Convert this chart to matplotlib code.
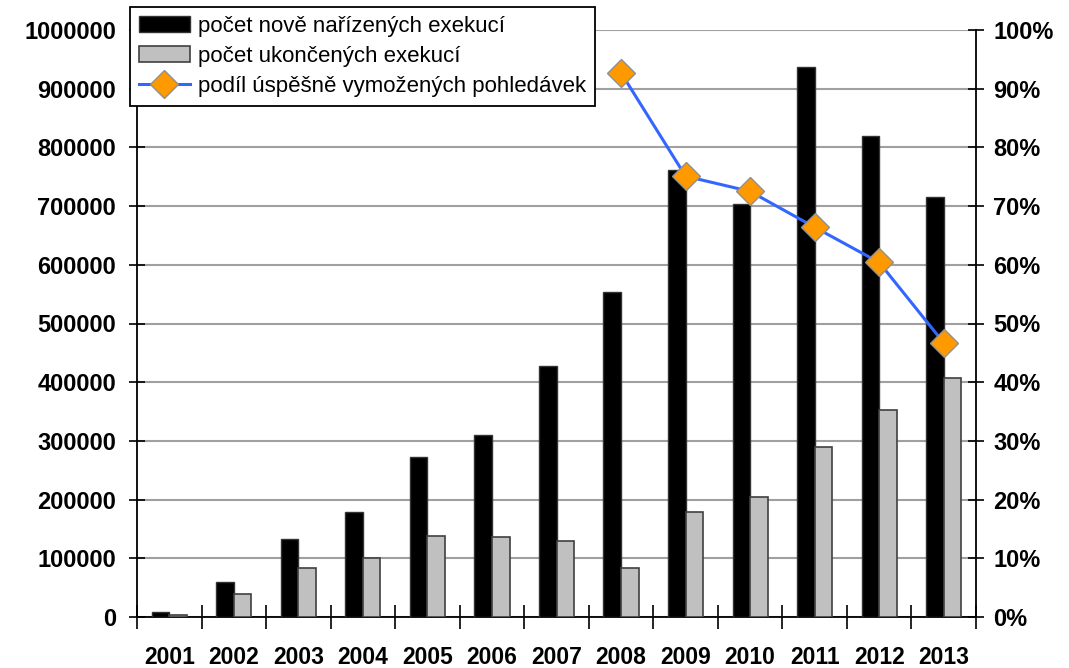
import matplotlib
matplotlib.use("Agg")
import matplotlib.pyplot as plt
import numpy as np

years = ["2001", "2002", "2003", "2004", "2005", "2006", "2007",
         "2008", "2009", "2010", "2011", "2012", "2013"]
nove = [8000, 60000, 133000, 179000, 272000, 310000, 428000,
        554000, 762000, 703000, 937000, 819000, 716000]
ukoncene = [4000, 39000, 83000, 100000, 138000, 135500, 130000,
            83500, 179000, 204000, 290000, 353000, 408000]
podil_years = ["2008", "2009", "2010", "2011", "2012", "2013"]
podil = [0.927, 0.751, 0.725, 0.664, 0.604, 0.467]

labels = ["počet nově nařízených exekucí", "počet ukončených exekucí",
          "podíl úspěšně vymožených pohledávek"]

plt.rcParams['font.family'] = ['Liberation Sans', 'DejaVu Sans']

W, H = 1069, 668
fig = plt.figure(figsize=(W / 100, H / 100), dpi=100)
L, R, T, B = 137, 976, 30, 617
ax = fig.add_axes([L / W, (H - B) / H, (R - L) / W, (B - T) / H])
ax2 = ax.twinx()

x = np.arange(len(years))
bw = 0.272
ax.bar(x - bw, nove, width=bw, align='edge', color='black',
       edgecolor='#333333', linewidth=1, label=labels[0], zorder=3)
ax.bar(x, ukoncene, width=bw, align='edge', color='#C0C0C0',
       edgecolor='#404040', linewidth=1.2, label=labels[1], zorder=3)

px = [years.index(y) for y in podil_years]
ax2.plot(px, podil, color='#3366FF', linewidth=2.2, marker='D',
         markersize=14, markerfacecolor='#FF9900', markeredgecolor='#909090',
         markeredgewidth=1, label=labels[2], zorder=4)

ax.set_xlim(-0.5, len(years) - 0.5)
ax.set_ylim(0, 1000000)
ax2.set_ylim(0, 1.0)

ax.set_yticks(np.arange(0, 1000001, 100000))
ax.set_yticklabels([f"{v}" for v in range(0, 1000001, 100000)])
ax2.set_yticks(np.arange(0, 1.01, 0.1))
ax2.set_yticklabels([f"{int(round(v * 100))}%" for v in np.arange(0, 1.01, 0.1)])

ax.yaxis.grid(True, color='#A0A0A0', linewidth=1.5, zorder=0)
ax.set_axisbelow(True)

ax.set_xticks(x)
ax.set_xticklabels(years)
ax.set_xticks(np.arange(-0.5, len(years), 1.0), minor=True)
ax.tick_params(axis='x', which='major', length=0, pad=21,
               labelsize=16.5)
ax.tick_params(axis='x', which='minor', direction='inout', length=17,
               width=1.2, color='black')
for lab in ax.get_xticklabels():
    lab.set_fontweight('bold')

ax.tick_params(axis='y', which='major', direction='inout', length=12,
               width=1.2, labelsize=17, pad=9)
for lab in ax.get_yticklabels():
    lab.set_fontweight('bold')
ax2.tick_params(axis='y', which='major', direction='inout', length=12,
                width=1.2, labelsize=17, pad=6.5)
for lab in ax2.get_yticklabels():
    lab.set_fontweight('bold')

for a in (ax, ax2):
    a.spines['top'].set_visible(False)
    a.spines['left'].set_linewidth(1.3)
    a.spines['right'].set_linewidth(1.3)
    a.spines['bottom'].set_linewidth(1.3)
ax2.spines['left'].set_visible(False)
ax2.spines['bottom'].set_visible(False)
ax.spines['right'].set_visible(False)

h1, l1 = ax.get_legend_handles_labels()
h2, l2 = ax2.get_legend_handles_labels()
leg = ax2.legend(h1 + h2, l1 + l2, loc='upper left',
                 bbox_to_anchor=((130 - L) / (R - L), (B - 7) / (B - T)),
                 borderaxespad=0, fontsize=16, frameon=True, fancybox=False,
                 edgecolor='black', framealpha=1, handlelength=2.3,
                 handleheight=0.7, handletextpad=0.35, labelspacing=0.4,
                 borderpad=0.4)
leg.get_frame().set_linewidth(1.3)
leg.set_zorder(10)

fig.savefig("out.png", dpi=100)
